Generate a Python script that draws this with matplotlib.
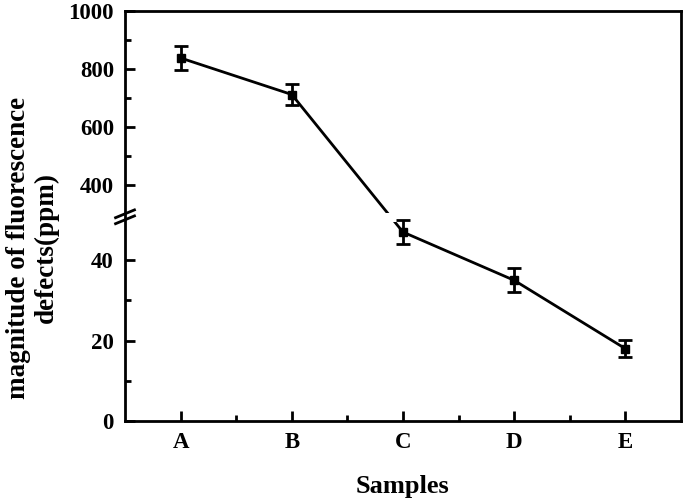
import numpy as np
import matplotlib
matplotlib.use('Agg')
import matplotlib.pyplot as plt
from matplotlib.ticker import FixedLocator
from matplotlib.patches import Rectangle

plt.rcParams['font.family'] = ['Liberation Serif', 'DejaVu Serif']
plt.rcParams['font.weight'] = 'bold'

samples = ['A', 'B', 'C', 'D', 'E']
defects = [838, 712, 47, 35, 18]
errors = [40, 35, 3, 3, 2.1]

# broken y axis: 0-50 below, 300-1000 above (piecewise linear scale)
SRC = [-1000, 0, 50, 300, 1000, 3000]
DST = [-4020, 0, 201, 207, 410, 990]


def fwd(y):
    return np.interp(y, SRC, DST)


def inv(t):
    return np.interp(t, DST, SRC)


fig = plt.figure(figsize=(6.85, 5.0), dpi=100)
ax = fig.add_axes([0.1825, 0.158, 0.8115, 0.820])
ax.set_yscale('function', functions=(fwd, inv))

x = np.arange(len(samples))
ax.plot(x, defects, color='black', lw=2, zorder=2)
ax.errorbar(x, defects, yerr=errors, fmt='s', color='black', ms=6,
            elinewidth=2, capsize=5, capthick=2, zorder=3)

# gap in the line at the break
ax.add_patch(Rectangle((1.5, 49.6), 1.0, 255, facecolor='white',
                       edgecolor='none', zorder=2.2))

ax.set_xlim(-0.5, 4.5)
ax.set_ylim(0, 1000)
ax.set_xticks(x)
ax.set_xticklabels(samples)
ax.xaxis.set_minor_locator(FixedLocator([0.5, 1.5, 2.5, 3.5]))
ax.yaxis.set_major_locator(FixedLocator([0, 20, 40, 400, 600, 800, 1000]))
ax.yaxis.set_minor_locator(FixedLocator([10, 30, 500, 700, 900]))
ax.set_yticklabels(['0', '20', '40', '400', '600', '800', '1000'])

for s in ax.spines.values():
    s.set_linewidth(2)
ax.tick_params(which='both', direction='in', width=2, labelsize=16.5,
               top=False, right=False)
ax.tick_params(which='major', length=7, pad=8)
ax.tick_params(which='minor', length=4)

# break marks on the left spine
for yb in (50, 300):
    yp = fwd(yb) / 410.0
    ax.plot([-0.017, 0.017], [yp - 0.009, yp + 0.010], color='black', lw=2,
            transform=ax.transAxes, clip_on=False, zorder=5)

ax.set_xlabel('Samples', fontsize=19, fontweight='bold', labelpad=16)
fig.text(0.047, 0.505, 'magnitude of fluorescence\ndefects(ppm)', rotation=90,
         ha='center', va='center', multialignment='center', fontsize=19.5,
         fontweight='bold', linespacing=1.15)

fig.savefig('out.png', dpi=100)
